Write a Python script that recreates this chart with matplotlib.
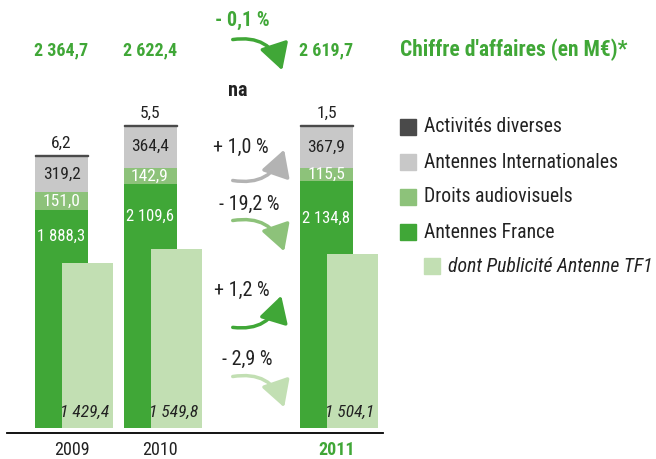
import matplotlib
matplotlib.use('Agg')
import matplotlib.pyplot as plt
from matplotlib.patches import FancyArrowPatch, Rectangle
from matplotlib import font_manager

# data (M€)
years = ['2009', '2010', '2011']
antennes_france = [1888.3, 2109.6, 2134.8]
droits_audiovisuels = [151.0, 142.9, 115.5]
antennes_internationales = [319.2, 364.4, 367.9]
activites_diverses = [6.2, 5.5, 1.5]
pub_tf1 = [1429.4, 1549.8, 1504.1]
totals = [2364.7, 2622.4, 2619.7]
variations = ['- 0,1 %', 'na', '+ 1,0 %', '- 19,2 %', '+ 1,2 %', '- 2,9 %']
legend_labels = ['Activités diverses', 'Antennes Internationales',
                 'Droits audiovisuels', 'Antennes France',
                 'dont Publicité Antenne TF1']

GREEN = '#40a737'
MID = '#8dc27a'
LIGHT = '#c2dfb3'
GREY = '#c8c8c8'
DARK = '#4a4a4a'
TXT = '#222222'

# condensed font, like the original
names = {f.name for f in font_manager.fontManager.ttflist}
family = 'Liberation Sans'
for cand in ['Roboto Condensed', 'Archivo Narrow', 'Barlow Semi Condensed', 'Asap Condensed']:
    if cand in names:
        family = cand
        break
plt.rcParams['font.family'] = [family, 'DejaVu Sans']


def fr(v):
    return f"{v:,.1f}".replace(',', ' ').replace('.', ',')


fig = plt.figure(figsize=(6.56, 4.59), dpi=100)

# bar axes: x in pixels, y in M€ (0.1155 px per M€, baseline 31 px from bottom)
k = 0.1155
ax = fig.add_axes([0, 0, 1, 1])
ax.set_xlim(0, 656)
ax.set_ylim(-31 / k, (459 - 31) / k)
ax.axis('off')

x_main = [61.5, 150, 326.5]
x_pub = [x + 26 for x in x_main]
w = 53

b1 = antennes_france
b2 = [a + b for a, b in zip(b1, droits_audiovisuels)]
b3 = [a + b for a, b in zip(b2, antennes_internationales)]
tops = [a + b for a, b in zip(b3, activites_diverses)]

ax.bar(x_main, antennes_france, w, color=GREEN, zorder=2)
ax.bar(x_main, droits_audiovisuels, w, bottom=b1, color=MID, zorder=2)
ax.bar(x_main, antennes_internationales, w, bottom=b2, color=GREY, zorder=2)
ax.bar(x_main, activites_diverses, w, bottom=b3, color=DARK, edgecolor=DARK,
       linewidth=1.0, zorder=2)
ax.bar(x_pub, pub_tf1, 51, color=LIGHT, zorder=3)

for i in range(3):
    x = x_main[i]
    ax.annotate(fr(activites_diverses[i]), (x, tops[i]), xytext=(0, 3),
                textcoords='offset points', ha='center', va='bottom',
                fontsize=12.5, color=TXT)
    ax.text(x, b2[i] + antennes_internationales[i] / 2, fr(antennes_internationales[i]),
            ha='center', va='center', fontsize=12.5, color=TXT, zorder=4)
    ax.text(x, b1[i] + droits_audiovisuels[i] / 2, fr(droits_audiovisuels[i]),
            ha='center', va='center', fontsize=12.5, color='white', zorder=4)
    ax.text(x, (b1[i] + pub_tf1[i]) / 2, fr(antennes_france[i]),
            ha='center', va='center', fontsize=12, color='white', zorder=4)
    ax.annotate(fr(pub_tf1[i]), (x_pub[i] + 25, 0), xytext=(-2, 6),
                textcoords='offset points', ha='right', va='bottom',
                fontsize=12.5, style='italic', color=TXT, zorder=4)

# overlay in pixel coordinates
ov = fig.add_axes([0, 0, 1, 1])
ov.set_xlim(0, 656)
ov.set_ylim(459, 0)
ov.axis('off')
ov.patch.set_alpha(0)

ov.plot([7, 383], [433, 433], color='black', lw=1.3)

for i, y in enumerate(years):
    last = i == 2
    ov.text(x_main[i] + 10, 450, y, ha='center', va='center', fontsize=13,
            color=GREEN if last else TXT, fontweight='bold' if last else 'normal')

for i, t in enumerate(totals):
    ov.text(x_main[i], 50, fr(t), ha='center', va='center', fontsize=13,
            fontweight='bold', color=GREEN)
ov.text(400, 50, "Chiffre d'affaires (en M€)*", ha='left', va='center',
        fontsize=15.5, fontweight='bold', color=GREEN)

# variation arrows between 2010 and 2011
arrows = [((230, 40), (283, 73), -0.45, GREEN),
          ((230, 180), (285, 147), 0.45, '#b3b3b3'),
          ((230, 221), (285, 254), -0.45, MID),
          ((230, 327), (282, 293), 0.45, GREEN),
          ((230, 377), (285, 410), -0.45, LIGHT)]
for (p0, p1, rad, c) in arrows:
    ov.add_patch(FancyArrowPatch(p0, p1, connectionstyle=f'arc3,rad={rad}',
                                 arrowstyle='-|>,head_length=0.8,head_width=0.45',
                                 mutation_scale=20, color=c, lw=2.5))

var_pos = [(242, 20), (238, 90), (241, 147), (249, 204), (242, 290), (247, 359)]
for j, (label, (x, y)) in enumerate(zip(variations, var_pos)):
    ov.text(x, y, label, ha='center', va='center', fontsize=14.5,
            color=GREEN if j == 0 else TXT,
            fontweight='bold' if j < 2 else 'normal')

# legend
leg_colors = [DARK, GREY, MID, GREEN, LIGHT]
leg_y = [127, 162, 197, 232, 266]
for j, (lab, c, y) in enumerate(zip(legend_labels, leg_colors, leg_y)):
    x0 = 424 if j == 4 else 400
    ov.add_patch(Rectangle((x0, y - 8), 16, 16, color=c))
    ov.text(x0 + 24, y, lab, ha='left', va='center', fontsize=14.2, color=TXT,
            style='italic' if j == 4 else 'normal')

fig.savefig('out.png', dpi=100)
